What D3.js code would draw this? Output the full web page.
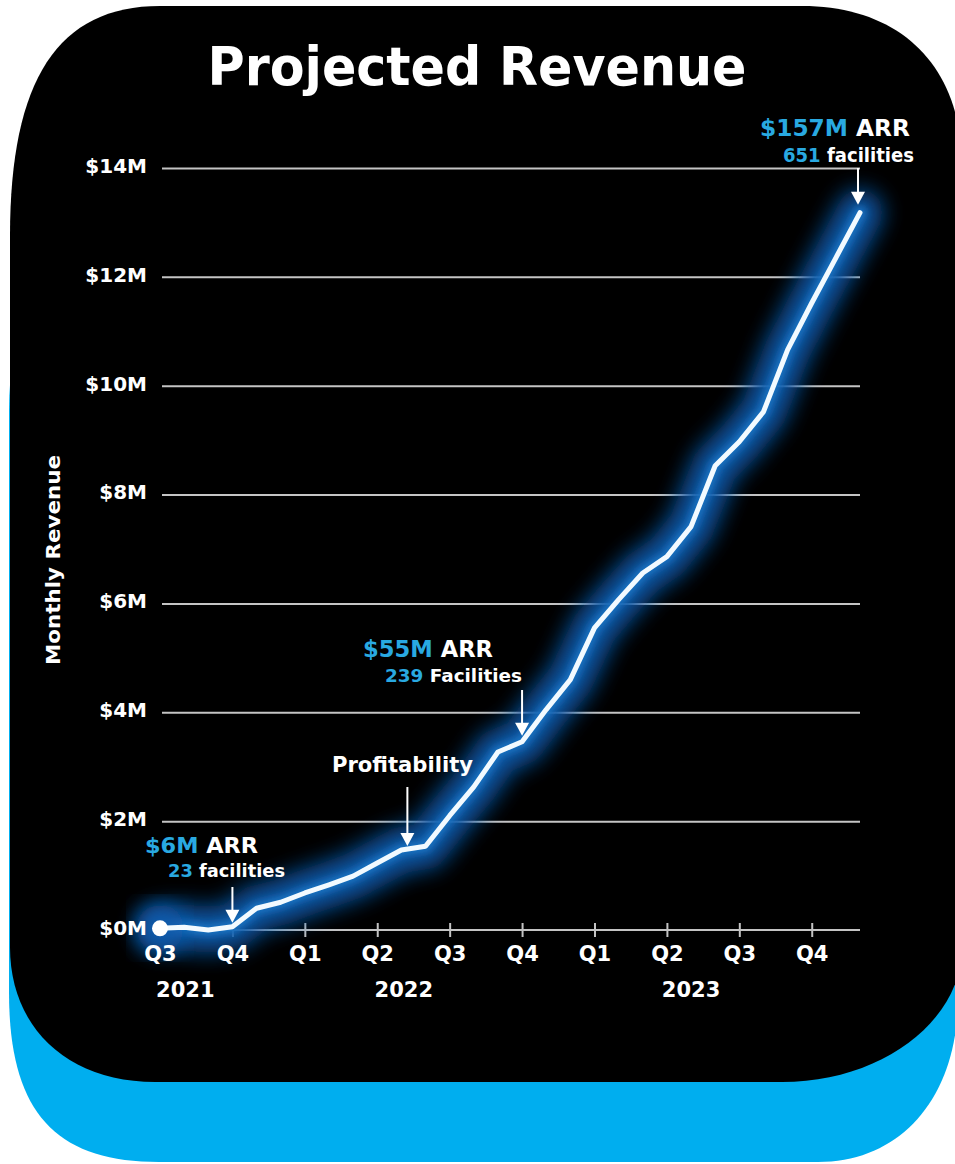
<!DOCTYPE html>
<html>
<head>
<meta charset="utf-8">
<script src="https://cdn.jsdelivr.net/npm/d3@7"></script>
<style>
  html, body { margin: 0; padding: 0; background: #fff; }
  svg { display: block; }
  text { font-family: "DejaVu Sans", "Liberation Sans", sans-serif; font-weight: bold; }
</style>
</head>
<body>
<div id="chart"></div>
<script>
// ---------- DATA ----------
const months = ["Jul 2021","Aug 2021","Sep 2021","Oct 2021","Nov 2021","Dec 2021",
                "Jan 2022","Feb 2022","Mar 2022","Apr 2022","May 2022","Jun 2022",
                "Jul 2022","Aug 2022","Sep 2022","Oct 2022","Nov 2022","Dec 2022",
                "Jan 2023","Feb 2023","Mar 2023","Apr 2023","May 2023","Jun 2023",
                "Jul 2023","Aug 2023","Sep 2023","Oct 2023","Nov 2023","Dec 2023"];
// Monthly revenue, $M
const revenue = [0.03, 0.05, 0.00, 0.06, 0.40, 0.51, 0.68, 0.83, 0.99, 1.23, 1.47, 1.54,
                 2.10, 2.63, 3.27, 3.46, 4.05, 4.60, 5.55, 6.07, 6.56, 6.86, 7.41, 8.53,
                 8.97, 9.52, 10.66, 11.52, 12.35, 13.18];
const quarterLabels = ["Q3","Q4","Q1","Q2","Q3","Q4","Q1","Q2","Q3","Q4"];
const quarterMonths = ["Jul 2021","Oct 2021","Jan 2022","Apr 2022","Jul 2022","Oct 2022","Jan 2023","Apr 2023","Jul 2023","Oct 2023"];
const yearLabels = ["2021","2022","2023"];
const yTickValues = [0, 2, 4, 6, 8, 10, 12, 14];
const yTickLabels = ["$0M","$2M","$4M","$6M","$8M","$10M","$12M","$14M"];
const title = "Projected Revenue";
const yTitle = "Monthly Revenue";
const annotations = [
  { month: "Oct 2021", lines: [[["$6M", true], [" ARR", false]], [["23", true], [" facilities", false]]] },
  { month: "May 2022", lines: [[["Profitability", false]]] },
  { month: "Oct 2022", lines: [[["$55M", true], [" ARR", false]], [["239", true], [" Facilities", false]]] },
  { month: "Dec 2023", lines: [[["$157M", true], [" ARR", false]], [["651", true], [" facilities", false]]] }
];

// ---------- LAYOUT ----------
const W = 955, H = 1164;
const BLUE = "#00aeef", ACCENT = "#29a9e1", GRID = "#c4c4c4";

const svg = d3.select("#chart").append("svg").attr("width", W).attr("height", H);
svg.append("rect").attr("width", W).attr("height", H).attr("fill", "#fff");

function roundedPath(x0, y0, x1, y1, c) {
  const [tlx, tly, tlk] = c.tl, [trx, try_, trk] = c.tr, [brx, bry, brk] = c.br, [blx, bly, blk] = c.bl;
  return `M${x0 + tlx},${y0} L${x1 - trx},${y0} ` +
    `C${x1 - trx + trx * trk},${y0} ${x1},${y0 + try_ - try_ * trk} ${x1},${y0 + try_} ` +
    `L${x1},${y1 - bry} C${x1},${y1 - bry + bry * brk} ${x1 - brx + brx * brk},${y1} ${x1 - brx},${y1} ` +
    `L${x0 + blx},${y1} C${x0 + blx - blx * blk},${y1} ${x0},${y1 - bly + bly * blk} ${x0},${y1 - bly} ` +
    `L${x0},${y0 + tly} C${x0},${y0 + tly - tly * tlk} ${x0 + tlx - tlx * tlk},${y0} ${x0 + tlx},${y0} Z`;
}

// blue backing card
svg.append("path")
  .attr("d", roundedPath(9, 240, 958, 1162, { tl: [150, 170, 0.65], tr: [150, 170, 0.6], br: [140, 165, 0.6], bl: [150, 170, 0.7] }))
  .attr("fill", BLUE);
// black card
svg.append("path")
  .attr("d", roundedPath(10, 6, 962, 1082, { tl: [150, 230, 0.68], tr: [160, 160, 0.62], br: [180, 135, 0.55], bl: [145, 135, 0.6] }))
  .attr("fill", "#000");

// defs: glow
const defs = svg.append("defs");
const f1 = defs.append("filter").attr("id", "glowWide").attr("x", "-20%").attr("y", "-20%").attr("width", "140%").attr("height", "140%");
f1.append("feGaussianBlur").attr("stdDeviation", 11);
const f2 = defs.append("filter").attr("id", "glowNear").attr("x", "-20%").attr("y", "-20%").attr("width", "140%").attr("height", "140%");
f2.append("feGaussianBlur").attr("stdDeviation", 3.5);

// scales
const monthIndex = m => months.indexOf(m);
const x = d3.scaleLinear().domain([0, months.length - 1]).range([160, 860]);
const y = d3.scaleLinear().domain([0, 14]).range([930, 168]);

// layers
const gridLayer = svg.append("g");
const glowLayer = svg.append("g");
const lineLayer = svg.append("g");
const labelLayer = svg.append("g");

// title
labelLayer.append("text")
  .attr("x", 477).attr("y", 85)
  .attr("text-anchor", "middle")
  .attr("font-size", 53)
  .attr("fill", "#fff")
  .attr("textLength", 539).attr("lengthAdjust", "spacingAndGlyphs")
  .text(title);

// y gridlines (below glow)
const gyLines = gridLayer.append("g").attr("transform", "translate(162,0)")
  .call(d3.axisLeft(y).tickValues(yTickValues.filter(v => v > 0)).tickSize(-(860 - 162)).tickFormat(""));
gyLines.select(".domain").remove();
gyLines.selectAll(".tick line").attr("stroke", GRID).attr("stroke-width", 2);

// y labels (above glow)
const gyText = labelLayer.append("g").attr("transform", "translate(162,0)")
  .call(d3.axisLeft(y).tickValues(yTickValues).tickSize(0).tickPadding(15)
    .tickFormat(v => yTickLabels[yTickValues.indexOf(v)]));
gyText.select(".domain").remove();
gyText.selectAll(".tick text").attr("fill", "#fff").attr("font-size", 20)
  .attr("font-family", "DejaVu Sans, sans-serif").attr("font-weight", "bold")
  .attr("dy", "0.22em");

// x axis line + ticks (below glow)
const gxLines = gridLayer.append("g").attr("transform", `translate(0,${y(0)})`)
  .call(d3.axisBottom(x).tickValues(quarterMonths.map(monthIndex)).tickSize(7).tickFormat(""));
gxLines.select(".domain").attr("stroke", GRID).attr("stroke-width", 2).attr("d", `M${x(0)},0H860`);
gxLines.selectAll(".tick line").attr("stroke", GRID).attr("stroke-width", 2).attr("y1", -7).attr("y2", 7);
gxLines.selectAll(".tick").filter((d, i) => i === 0).select("line").remove();

// x labels (above glow)
const gxText = labelLayer.append("g").attr("transform", `translate(0,${y(0)})`)
  .call(d3.axisBottom(x).tickValues(quarterMonths.map(monthIndex)).tickSize(7).tickPadding(12)
    .tickFormat((d, i) => quarterLabels[i]));
gxText.select(".domain").remove();
gxText.selectAll(".tick line").remove();
gxText.selectAll(".tick text").attr("fill", "#fff").attr("font-size", 21)
  .attr("font-family", "DejaVu Sans, sans-serif").attr("font-weight", "bold")
  .attr("dy", "0.55em");

// years
const yearAnchor = [1.05, 10.1, 22.0];
labelLayer.selectAll(".year").data(yearLabels).join("text")
  .attr("class", "year")
  .attr("x", (d, i) => x(yearAnchor[i])).attr("y", 997)
  .attr("text-anchor", "middle").attr("font-size", 21).attr("fill", "#fff")
  .text(d => d);

// y title
labelLayer.append("text")
  .attr("transform", "translate(60,560) rotate(-90)")
  .attr("text-anchor", "middle").attr("font-size", 19).attr("fill", "#fff")
  .attr("textLength", 210).attr("lengthAdjust", "spacingAndGlyphs")
  .text(yTitle);

// line + glow
const line = d3.line().x((d, i) => x(i)).y(d => y(d)).curve(d3.curveLinear);
const lineD = line(revenue);
glowLayer.append("path").attr("d", lineD).attr("fill", "none")
  .attr("stroke", "#0a58a8").attr("stroke-width", 46).attr("stroke-linejoin", "round").attr("stroke-linecap", "round")
  .attr("opacity", 0.95).attr("filter", "url(#glowWide)");
glowLayer.append("path").attr("d", lineD).attr("fill", "none")
  .attr("stroke", "#1a78c8").attr("stroke-width", 12).attr("stroke-linejoin", "round").attr("stroke-linecap", "round")
  .attr("opacity", 0.85).attr("filter", "url(#glowNear)");
glowLayer.append("circle").attr("cx", x(0)).attr("cy", y(revenue[0])).attr("r", 24)
  .attr("fill", "#0a58a8").attr("filter", "url(#glowWide)");

lineLayer.append("path").attr("d", lineD).attr("fill", "none")
  .attr("stroke", "#f2faff").attr("stroke-width", 5)
  .attr("stroke-linejoin", "round").attr("stroke-linecap", "round");
lineLayer.append("circle").attr("cx", x(0)).attr("cy", y(revenue[0])).attr("r", 8).attr("fill", "#fff");

// annotations
const annLayout = [
  { dx: 0, top: 887, gap: 4, lines: [{ x: 145, y: 853, size: 22, len: 113, anchor: "start" }, { x: 168, y: 877, size: 18, len: 117, anchor: "start" }] },
  { dx: 6, top: 787, gap: 4, lines: [{ x: 332, y: 772, size: 21, len: 141, anchor: "start" }] },
  { dx: 0, top: 690, gap: 6, lines: [{ x: 363, y: 657, size: 22.5, len: 130, anchor: "start" }, { x: 385, y: 682, size: 18, len: 137, anchor: "start" }] },
  { dx: -2, top: 168, gap: 8, lines: [{ x: 910, y: 136, size: 23, len: 150, anchor: "end" }, { x: 914, y: 162, size: 19, len: 131, anchor: "end" }] }
];
annotations.forEach((a, k) => {
  const L = annLayout[k];
  const mi = monthIndex(a.month);
  const ax = x(mi) + L.dx;
  const tip = y(revenue[mi]) - L.gap;
  const g = labelLayer.append("g");
  g.append("line").attr("x1", ax).attr("x2", ax).attr("y1", L.top).attr("y2", tip - 8)
    .attr("stroke", "#fff").attr("stroke-width", 2);
  g.append("path").attr("d", `M${ax - 7},${tip - 13} L${ax + 7},${tip - 13} L${ax},${tip} Z`).attr("fill", "#fff");
  a.lines.forEach((parts, j) => {
    const P = L.lines[j];
    const t = g.append("text").attr("x", P.x).attr("y", P.y).attr("text-anchor", P.anchor)
      .attr("font-size", P.size).attr("textLength", P.len).attr("lengthAdjust", "spacingAndGlyphs");
    parts.forEach(([s, hi]) => t.append("tspan").attr("fill", hi ? ACCENT : "#fff").text(s));
  });
});
</script>
</body>
</html>
